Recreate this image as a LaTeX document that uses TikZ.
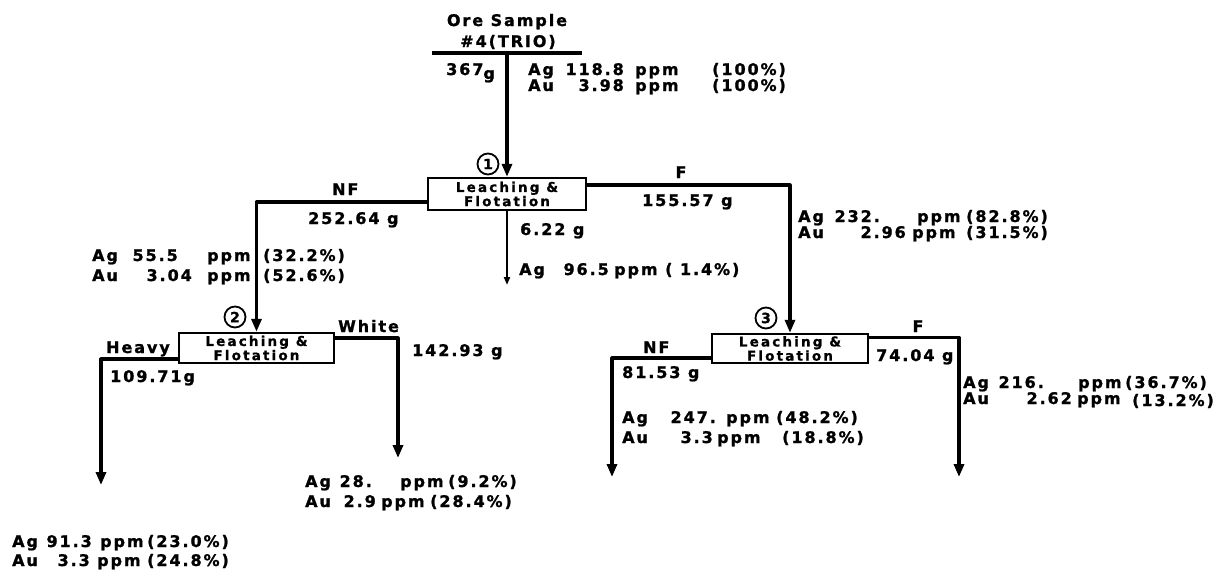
\documentclass[tikz,border=0pt]{standalone}
\usepackage{fontspec}
\newfontfamily\lett{DejaVu Sans Bold}[LetterSpace=12,FakeBold=1.2]
\newfontfamily\boxlett{DejaVu Sans Bold}[LetterSpace=16,FakeBold=1]
\usetikzlibrary{arrows.meta}
\newcommand\tl[4]{\node[lbl] (#1) at (#2,#3) {#4};}
\newcommand\tr[4]{\node[lbl, anchor=base east] (#1) at (#2,#3) {#4};}
\begin{document}
\begin{tikzpicture}[x=1pt,y=-1pt,
  lbl/.style={font=\lett\fontsize{16}{16}\selectfont, inner sep=0pt, anchor=base west},
  flow/.style={line width=3.2pt, line join=round, -{Triangle[length=13pt,width=10pt]}},
  thinflow/.style={line width=2.2pt, -{Triangle[length=8pt,width=6pt]}},
  bar/.style={line width=3.2pt},
  procbox/.style={draw, line width=2.4pt, fill=white, inner sep=0pt, align=center,
    font=\boxlett\fontsize{13.5}{13}\selectfont},
  num/.style={circle, draw, line width=1.8pt, minimum size=21pt, inner sep=0pt,
    font=\lett\fontsize{14}{14}\selectfont}]
\useasboundingbox (0,0) rectangle (1224,571);

% process boxes
\node[procbox, minimum width=158pt, minimum height=32pt] (b1) at (507,194) {Leaching \&\\Flotation};
\node[procbox, minimum width=155pt, minimum height=30pt] (b2) at (256.5,348) {Leaching \&\\Flotation};
\node[procbox, minimum width=156pt, minimum height=29pt] (b3) at (790,348.5) {Leaching \&\\Flotation};
\node[num] (c1) at (488,164) {1};
\node[num] (c2) at (235,317) {2};
\node[num] (c3) at (766,318) {3};

% free ends
\coordinate (oreL) at (432,53);
\coordinate (oreR) at (582,53);
\coordinate (oreM) at (507,53);
\coordinate (t6) at (507,285);
\coordinate (hv) at (101,485);
\coordinate (wh) at (398,458);
\coordinate (nf3) at (612,477);
\coordinate (f3) at (959,477);

% connectors
\draw[bar] (oreL) -- (oreR);
\draw[flow] (oreM) -- (b1.north);
\draw[flow] ([yshift=-8pt]b1.west) -| (b2.north);
\draw[flow] ([yshift=9pt]b1.east) -| (b3.north);
\draw[thinflow] (b1.south) -- (t6);
\draw[flow] ([yshift=-11pt]b2.west) -| (hv);
\draw[flow] ([yshift=10pt]b2.east) -| (wh);
\draw[flow] ([yshift=-9.5pt]b3.west) -| (nf3);
\draw[flow] ([yshift=11pt]b3.east) -| (f3);

% top sample
\node[lbl, anchor=base] (ore1) at (507,26) {Ore Sample};
\node[lbl, anchor=base] (ore2) at (508,47) {\#4(TRIO)};
\tl{w0}{446}{75}{367\raisebox{-4pt}{g}}
\tl{a0}{528}{75}{Ag}\tr{a0v}{624}{75}{118.8}\tl{a0p}{635}{75}{ppm}\tl{a0r}{712}{75}{(100\%)}
\tl{u0}{528}{91}{Au}\tr{u0v}{624}{91}{3.98}\tl{u0p}{635}{91}{ppm}\tl{u0r}{712}{91}{(100\%)}

% NF from 1
\tl{nf1}{332}{195}{NF}
\tl{w1}{308}{224}{252.64 g}
\tl{a1}{92}{261}{Ag}\tr{a1v}{178}{261}{55.5}\tl{a1p}{207}{261}{ppm}\tl{a1r}{263}{261}{(32.2\%)}
\tl{u1}{92}{281}{Au}\tr{u1v}{192}{281}{3.04}\tl{u1p}{207}{281}{ppm}\tl{u1r}{263}{281}{(52.6\%)}

% middle from 1
\tl{w6}{520}{235}{6.22 g}
\tl{a6}{519}{275}{Ag}\tr{a6v}{609}{275}{96.5}\tl{a6p}{614}{275}{ppm}\tl{a6r}{665}{275}{( 1.4\%)}

% F from 1
\node[lbl, anchor=base] (f1) at (681,178) {F};
\tl{w2}{642}{206}{155.57 g}
\tl{a2}{798}{222}{Ag}\tr{a2v}{880}{222}{232.}\tl{a2p}{917}{222}{ppm}\tl{a2r}{966}{222}{(82.8\%)}
\tl{u2}{798}{238}{Au}\tr{u2v}{906}{238}{2.96}\tl{u2p}{912}{238}{ppm}\tl{u2r}{966}{238}{(31.5\%)}

% box 2 outputs
\tl{hvy}{106}{353}{Heavy}
\tl{w3}{110}{382}{109.71g}
\tl{wht}{338}{332}{White}
\tl{w4}{412}{356}{142.93 g}
\tl{a4}{305}{487}{Ag}\tr{a4v}{372}{487}{28.}\tl{a4p}{400}{487}{ppm}\tl{a4r}{448}{487}{(9.2\%)}
\tl{u4}{305}{507}{Au}\tr{u4v}{376}{507}{2.9}\tl{u4p}{381}{507}{ppm}\tl{u4r}{430}{507}{(28.4\%)}
\tl{a3}{12}{547}{Ag}\tr{a3v}{92}{547}{91.3}\tl{a3p}{100}{547}{ppm}\tl{a3r}{147}{547}{(23.0\%)}
\tl{u3}{12}{566}{Au}\tr{u3v}{90}{566}{3.3}\tl{u3p}{97}{566}{ppm}\tl{u3r}{147}{566}{(24.8\%)}

% box 3 outputs
\tl{nf3l}{643}{353}{NF}
\tl{w5}{622}{378}{81.53 g}
\node[lbl, anchor=base] (f3l) at (918,332) {F};
\tl{w7}{876}{361}{74.04 g}
\tl{a5}{622}{423}{Ag}\tr{a5v}{716}{423}{247.}\tl{a5p}{726}{423}{ppm}\tl{a5r}{776}{423}{(48.2\%)}
\tl{u5}{622}{443}{Au}\tr{u5v}{713}{443}{3.3}\tl{u5p}{717}{443}{ppm}\tl{u5r}{782}{443}{(18.8\%)}
\tl{a7}{963}{388}{Ag}\tr{a7v}{1044}{388}{216.}\tl{a7p}{1078}{388}{ppm}\tl{a7r}{1125}{388}{(36.7\%)}
\tl{u7}{963}{404}{Au}\tr{u7v}{1072}{404}{2.62}\tl{u7p}{1077}{404}{ppm}\tl{u7r}{1132}{406}{(13.2\%)}
\end{tikzpicture}
\end{document}
